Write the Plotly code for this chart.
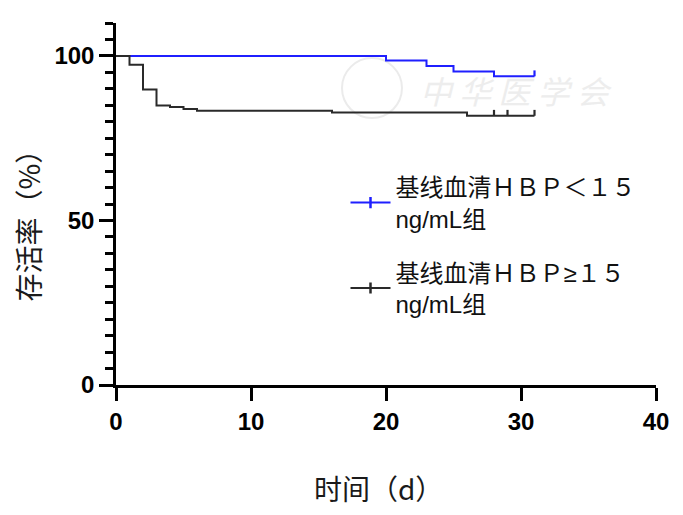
import plotly.graph_objects as go

# Kaplan-Meier step data (time in days, survival in %)
low_time = [0, 20, 23, 25, 28, 31]
low_surv = [100, 98.6, 96.9, 95.3, 93.8, 93.8]
low_cens_time = [31]
low_cens_surv = [93.8]

high_time = [0, 1, 2, 3, 4, 5, 6, 16, 26, 31]
high_surv = [100, 97.3, 89.8, 84.9, 84.5, 83.9, 83.3, 82.8, 81.8, 81.8]
high_cens_time = [28, 29, 31]
high_cens_surv = [81.8, 81.8, 81.8]

low_name = "基线血清ＨＢＰ＜１５<br>ng/mL组"
high_name = "基线血清ＨＢＰ≥１５<br>ng/mL组"

x_ticks = [0, 10, 20, 30, 40]
y_ticks = [0, 50, 100]

BLUE = "#1f1fff"
BLACK = "#2a2a2a"
TICK_UP = 1.8  # censor tick height in % units

fig = go.Figure()

for i, (t, s, ct, cs, col, name) in enumerate([
    (low_time, low_surv, low_cens_time, low_cens_surv, BLUE, low_name),
    (high_time, high_surv, high_cens_time, high_cens_surv, BLACK, high_name),
]):
    g = "g%d" % i
    fig.add_trace(go.Scatter(x=t, y=s, mode="lines", line=dict(color=col, width=2, shape="hv"),
                             showlegend=False, hoverinfo="skip", legendgroup=g))
    fig.add_trace(go.Scatter(x=ct, y=cs, mode="markers", marker=dict(size=1, color=col, opacity=0),
                             error_y=dict(type="data", symmetric=False, array=[TICK_UP] * len(ct),
                                          arrayminus=[0] * len(ct), thickness=2.2, width=0, color=col),
                             showlegend=False, hoverinfo="skip", legendgroup=g))
    fig.add_trace(go.Scatter(x=[None], y=[None], mode="lines+markers", name=name, legendgroup=g,
                             line=dict(color=col, width=2),
                             marker=dict(symbol="line-ns", size=8, line=dict(color=col, width=2.5))))

fig.add_annotation(text="存活率（%）", xref="paper", yref="paper", x=0, y=0.46,
                   xanchor="center", yanchor="middle", borderpad=0,
                   xshift=-88, textangle=-90, showarrow=False,
                   font=dict(family="Noto Sans CJK SC", size=28, color="#1a1a1a"))
fig.add_annotation(text="时间（d）", xref="paper", yref="paper", x=0.487, y=0,
                   xanchor="center", yanchor="middle",
                   yshift=-103, showarrow=False,
                   font=dict(family="Noto Sans CJK SC", size=28, color="#1a1a1a"))

# faint watermark
fig.add_annotation(text="中 华 医 学 会", xref="paper", yref="paper", x=0.74, y=0.815,
                   xanchor="center", yanchor="middle", showarrow=False,
                   font=dict(family="Noto Sans CJK SC", size=32, color="#ededed", style="italic"))
fig.add_shape(type="circle", xref="paper", yref="paper", x0=0.4185, x1=0.5296, y0=0.7376, y1=0.903,
              line=dict(color="#ebebeb", width=2), layer="below")

axis_font = dict(family="Liberation Sans", size=24, color="#000000", weight="bold")

fig.update_layout(
    width=675, height=507,
    margin=dict(l=108, r=27, t=15, b=130),
    paper_bgcolor="white", plot_bgcolor="white",
    xaxis=dict(range=[0, 40], tickvals=x_ticks, ticks="outside", ticklen=13, tickwidth=2.5,
               tickcolor="black", showline=True, linecolor="black", linewidth=2.5,
               showgrid=False, zeroline=False, tickfont=axis_font),
    yaxis=dict(range=[0, 110], tickvals=y_ticks, ticks="outside", ticklen=14, tickwidth=2.5,
               tickcolor="black", showline=True, linecolor="black", linewidth=2.5,
               showgrid=False, zeroline=False, tickfont=axis_font,
               minor=dict(dtick=5, tick0=0, ticks="outside", ticklen=8, tickwidth=2.5, tickcolor="black")),
    legend=dict(x=0.425, y=0.608, xanchor="left", yanchor="top", bgcolor="rgba(0,0,0,0)",
                font=dict(family="Liberation Sans, Noto Sans CJK SC", size=24, color="#111111"),
                itemwidth=40, tracegroupgap=20),
    showlegend=True,
)

fig.write_html("out.html")
